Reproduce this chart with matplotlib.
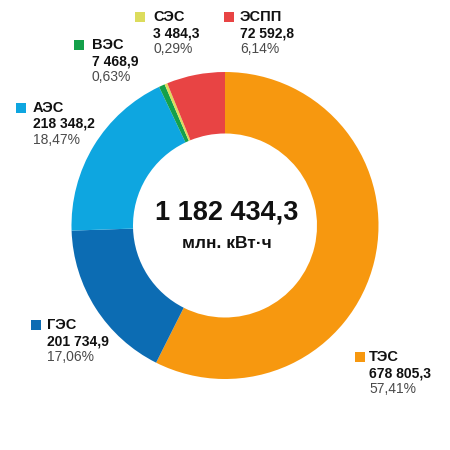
import matplotlib
matplotlib.use("Agg")
import matplotlib.pyplot as plt
from matplotlib.patches import Rectangle

names = ["ТЭС", "ГЭС", "АЭС", "ВЭС", "СЭС", "ЭСПП"]
values = [678805.3, 201734.9, 218348.2, 7468.9, 3484.3, 72592.8]
value_labels = ["678 805,3", "201 734,9", "218 348,2", "7 468,9", "3 484,3", "72 592,8"]
pct_labels = ["57,41%", "17,06%", "18,47%", "0,63%", "0,29%", "6,14%"]
colors = ["#F7980F", "#0C6CB3", "#0EA6E0", "#14A04A", "#DCDC5C", "#E84444"]
total_label = "1 182 434,3"
unit_label = "млн. кВт·ч"

# label anchor positions (pixel coords from top-left): square x, text x, name y
label_pos = {
    "ТЭС": (355, 369, 357),
    "ГЭС": (31, 47, 325),
    "АЭС": (16, 33, 108),
    "ВЭС": (74, 92, 45),
    "СЭС": (135, 153, 17),
    "ЭСПП": (224, 240, 17),
}

FONT = ["Liberation Sans Narrow", "Liberation Sans", "DejaVu Sans"]
H = 450

fig = plt.figure(figsize=(4.5, 4.5), dpi=100)
ax = fig.add_axes([0, 0, 1, 1])
ax.set_xlim(0, 450)
ax.set_ylim(0, 450)
ax.set_aspect("equal")
ax.axis("off")

R = 153.5
ax.pie(values, colors=colors, startangle=90, counterclock=False,
       center=(225, H - 225.5), radius=R,
       wedgeprops=dict(width=R - 92, linewidth=0))
ax.set_xlim(0, 450)
ax.set_ylim(0, 450)

for n, c, v, p in zip(names, colors, value_labels, pct_labels):
    sx, tx, ny = label_pos[n]
    ax.add_patch(Rectangle((sx, H - ny - 4.5), 9.5, 9.5, color=c, lw=0))
    ax.text(tx, H - ny, n, fontsize=10.5, fontweight="bold", family=FONT,
            va="center", ha="left", color="#111111")
    ax.text(tx, H - ny - 16, v, fontsize=10, fontweight="bold", family=FONT,
            va="center", ha="left", color="#111111")
    ax.text(tx, H - ny - 32, p, fontsize=10, family=FONT,
            va="center", ha="left", color="#4a4a4a")

ax.text(227, H - 213, total_label, fontsize=19.5, fontweight="bold", family=FONT,
        ha="center", va="center", color="#111111")
ax.text(227, H - 243, unit_label, fontsize=12.5, fontweight="bold", family=FONT,
        ha="center", va="center", color="#111111")

fig.savefig("out.png", dpi=100)
